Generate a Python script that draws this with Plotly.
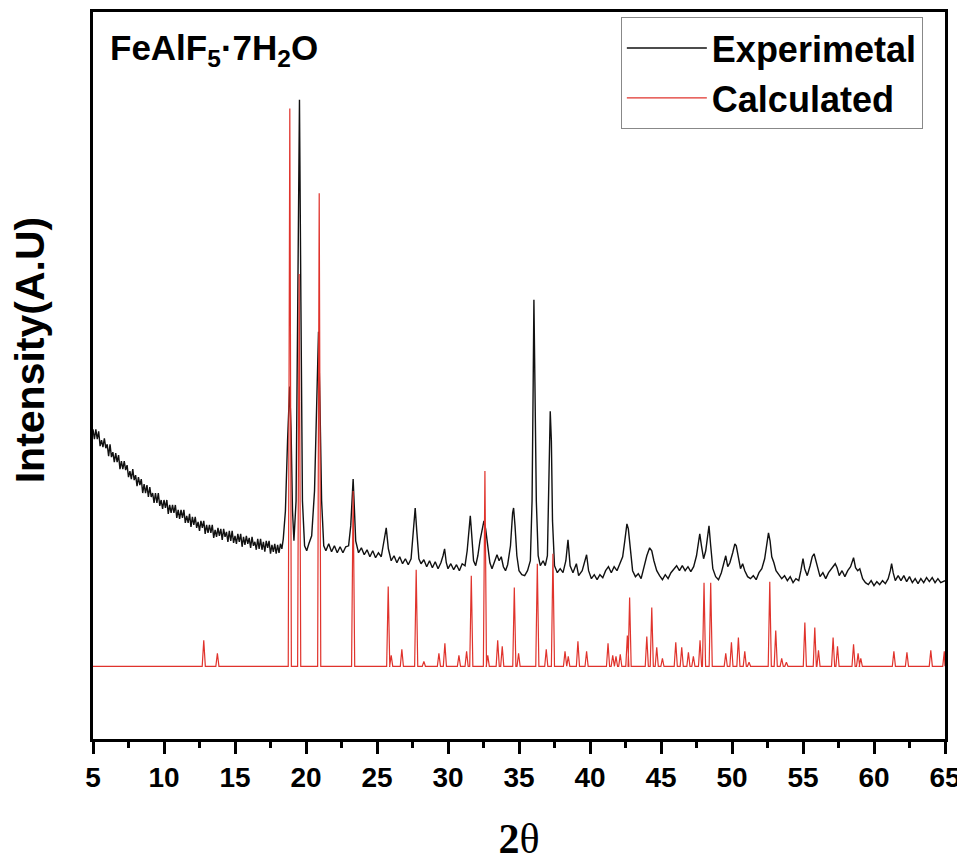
import plotly.graph_objects as go

# ---------------- data ----------------
# Experimental pattern: 2theta and intensity (arbitrary units, axis 0..730)
exp_2theta = [
    5.0, 5.1, 5.2, 5.3, 5.4, 5.5, 5.6, 5.7, 5.8, 5.9, 6.0, 6.1, 6.2, 6.3, 6.4, 6.5, 6.6, 6.7, 6.8, 6.9,
    7.0, 7.1, 7.2, 7.3, 7.4, 7.5, 7.6, 7.7, 7.8, 7.9, 8.0, 8.1, 8.2, 8.3, 8.4, 8.5, 8.6, 8.7, 8.8, 8.9,
    9.0, 9.1, 9.2, 9.3, 9.4, 9.5, 9.6, 9.7, 9.8, 9.9, 10.0, 10.1, 10.2, 10.3, 10.4, 10.5, 10.6, 10.7, 10.8, 10.9,
    11.0, 11.1, 11.2, 11.3, 11.4, 11.5, 11.6, 11.7, 11.8, 11.9, 12.0, 12.1, 12.2, 12.3, 12.4, 12.5, 12.6, 12.7, 12.8, 12.9,
    13.0, 13.1, 13.2, 13.3, 13.4, 13.5, 13.6, 13.7, 13.8, 13.9, 14.0, 14.1, 14.2, 14.3, 14.4, 14.5, 14.6, 14.7, 14.8, 14.9,
    15.0, 15.1, 15.2, 15.3, 15.4, 15.5, 15.6, 15.7, 15.8, 15.9, 16.0, 16.1, 16.2, 16.3, 16.4, 16.5, 16.6, 16.7, 16.8, 16.9,
    17.0, 17.1, 17.2, 17.3, 17.4, 17.5, 17.6, 17.7, 17.8, 17.9, 18.0, 18.1, 18.2, 18.3,
    18.4, 18.55, 18.7, 18.85, 18.95, 19.05, 19.15, 19.3,
    19.42, 19.54, 19.64, 19.75, 19.9, 20.05, 20.2, 20.4, 20.6, 20.75, 20.88, 20.98, 21.1, 21.25, 21.4,
    21.6, 21.8, 22.0, 22.2, 22.4, 22.6, 22.8, 23.0, 23.15, 23.25, 23.32, 23.4, 23.5, 23.7, 23.9,
    24.1, 24.3, 24.5, 24.7, 24.9, 25.1, 25.3, 25.5, 25.65, 25.8, 26.0, 26.2, 26.4, 26.6, 26.8,
    27.0, 27.2, 27.4, 27.55, 27.69, 27.8, 27.95, 28.1, 28.3, 28.5, 28.7, 28.9, 29.1, 29.3, 29.5,
    29.65, 29.76, 29.88, 30.0, 30.2, 30.4, 30.6, 30.8, 31.0, 31.2, 31.35, 31.5, 31.57, 31.65, 31.8,
    31.95, 32.1, 32.25, 32.4, 32.53, 32.65, 32.8, 32.95, 33.1, 33.3, 33.45, 33.6, 33.75, 33.9, 34.05,
    34.2, 34.4, 34.55, 34.62, 34.72, 34.85, 35.0, 35.2, 35.4, 35.6, 35.8, 35.92, 36.0, 36.05, 36.12,
    36.22, 36.35, 36.5, 36.7, 36.85, 37.0, 37.12, 37.2, 37.28, 37.36, 37.5, 37.7, 37.9, 38.1, 38.3,
    38.45, 38.6, 38.8, 39.04, 39.2, 39.45, 39.65, 39.76, 39.9, 40.1, 40.3, 40.5, 40.7, 40.9, 41.1,
    41.3, 41.5, 41.7, 41.9, 42.1, 42.3, 42.45, 42.6, 42.7, 42.85, 43.0, 43.2, 43.4, 43.6, 43.8,
    44.0, 44.2, 44.35, 44.5, 44.7, 44.9, 45.1, 45.3, 45.5, 45.7, 45.9, 46.1, 46.3, 46.5, 46.7,
    46.9, 47.1, 47.3, 47.5, 47.65, 47.73, 47.85, 48.0, 48.15, 48.3, 48.38, 48.5, 48.65, 48.85, 49.05,
    49.25, 49.45, 49.56, 49.7, 49.85, 50.05, 50.2, 50.3, 50.45, 50.6, 50.75, 50.9, 51.1, 51.3, 51.5,
    51.7, 51.9, 52.1, 52.3, 52.45, 52.57, 52.68, 52.8, 52.95, 53.1, 53.3, 53.5, 53.7, 53.9, 54.1,
    54.3, 54.5, 54.7, 54.85, 55.0, 55.12, 55.3, 55.5, 55.65, 55.78, 55.9, 56.05, 56.2, 56.4, 56.6,
    56.8, 57.0, 57.15, 57.27, 57.4, 57.55, 57.75, 57.95, 58.15, 58.35, 58.56, 58.7, 58.85, 59.0, 59.2,
    59.4, 59.6, 59.8, 60.0, 60.2, 60.4, 60.6, 60.8, 61.0, 61.15, 61.24, 61.35, 61.5, 61.7, 61.9,
    62.1, 62.3, 62.5, 62.7, 62.9, 63.1, 63.3, 63.5, 63.7, 63.9, 64.1, 64.3, 64.5, 64.7, 65.0,
]
exp_intensity = [
    311, 301, 311, 301, 309, 294, 300, 293, 302, 292, 296, 284, 296, 283, 288, 278, 287, 278, 285, 271,
    279, 271, 279, 270, 275, 263, 269, 261, 271, 260, 265, 254, 263, 255, 261, 247, 256, 247, 255, 243,
    253, 243, 247, 237, 247, 237, 247, 234, 240, 231, 240, 232, 240, 226, 235, 227, 235, 227, 235, 222,
    230, 221, 230, 222, 230, 217, 224, 217, 226, 213, 223, 215, 223, 212, 218, 209, 219, 212, 219, 206,
    215, 207, 215, 207, 215, 202, 210, 203, 212, 204, 211, 200, 211, 203, 208, 198, 209, 199, 209, 197,
    204, 196, 206, 198, 206, 193, 203, 195, 204, 196, 202, 192, 203, 194, 198, 190, 201, 191, 201, 190,
    198, 188, 199, 192, 199, 186, 195, 188, 196, 186, 195, 187, 196, 191,
    201, 229, 299, 354, 309, 229, 199, 239,
    439, 642, 439, 239, 194, 189, 196, 204, 249, 339, 409, 339, 239, 194, 189,
    196, 188, 194, 187, 193, 187, 193, 194, 214, 249, 261, 234, 199, 187, 192,
    185, 190, 183, 189, 182, 187, 183, 199, 212, 191, 179, 184, 177, 183, 176,
    181, 175, 181, 209, 232, 209, 181, 176, 180, 173, 179, 172, 178, 171, 177,
    184, 191, 177, 171, 176, 170, 175, 169, 176, 174, 189, 219, 224, 209, 179,
    174, 184, 199, 211, 219, 211, 194, 177, 171, 179, 185, 179, 183, 173, 169,
    175, 194, 227, 232, 214, 184, 169, 165, 164, 169, 179, 239, 359, 441, 359,
    239, 184, 174, 179, 174, 184, 259, 329, 299, 219, 174, 167, 171, 167, 179,
    200, 174, 167, 176, 164, 169, 181, 185, 169, 161, 165, 160, 165, 162, 169,
    173, 167, 173, 169, 176, 183, 199, 216, 211, 187, 169, 163, 166, 161, 174,
    184, 192, 189, 179, 169, 164, 160, 165, 161, 167, 170, 174, 169, 174, 169,
    173, 168, 173, 184, 201, 206, 194, 181, 189, 209, 214, 194, 171, 163, 160,
    167, 179, 184, 173, 177, 187, 196, 194, 181, 171, 176, 169, 163, 161, 164,
    160, 167, 171, 181, 194, 207, 199, 183, 177, 169, 165, 161, 164, 159, 163,
    157, 161, 159, 169, 181, 171, 164, 174, 183, 186, 179, 171, 163, 167, 161,
    167, 171, 174, 176, 172, 164, 169, 163, 169, 173, 182, 172, 169, 171, 161,
    157, 155, 159, 154, 158, 155, 159, 156, 161, 169, 176, 167, 159, 164, 159,
    164, 158, 163, 157, 161, 156, 161, 157, 162, 158, 162, 157, 161, 157, 159,
]

# Calculated pattern: reflection positions (2theta) and peak intensities
calc_base = 73
calc_2theta = [
    12.80, 13.76, 18.86, 19.52, 20.93, 23.32, 25.79, 26.00, 26.75, 27.76,
    28.30, 29.36, 29.78, 30.77, 31.31, 31.64, 32.60, 32.80, 33.50, 33.82,
    34.67, 34.97, 36.29, 36.92, 37.39, 38.24, 38.47, 39.15, 39.76, 41.27,
    41.60, 41.83, 42.13, 42.63, 42.79, 44.00, 44.35, 44.70, 45.10, 46.04,
    46.46, 46.93, 47.28, 47.75, 48.03, 48.50, 49.56, 49.96, 50.45, 50.90,
    51.20, 52.66, 53.08, 53.50, 53.83, 55.13, 55.83, 56.09, 57.12, 57.43,
    58.56, 58.88, 59.07, 61.40, 62.32, 64.00, 64.95,
]
calc_intensity = [
    99, 86, 633, 467, 548, 249, 153, 84, 90, 170,
    78, 86, 96, 84, 88, 164, 269, 84, 99, 93,
    152, 86, 176, 90, 186, 88, 83, 98, 88, 96,
    84, 83, 85, 104, 142, 103, 132, 92, 81, 97,
    92, 87, 83, 99, 157, 157, 86, 97, 102, 88,
    77, 158, 109, 81, 77, 117, 112, 89, 102, 93,
    95, 86, 81, 88, 87, 89, 88,
]
calc_halfwidth = 0.11

x_ticks = [5, 10, 15, 20, 25, 30, 35, 40, 45, 50, 55, 60, 65]

# build the stick-like calculated profile from the reflection list
calc_x = [5.0]
calc_y = [calc_base]
for p, h in zip(calc_2theta, calc_intensity):
    calc_x += [max(5.0, p - calc_halfwidth), p, min(65.0, p + calc_halfwidth)]
    calc_y += [calc_base, h, calc_base]
calc_x.append(65.0)
calc_y.append(calc_base)

FONT = "Arial, Liberation Sans, sans-serif"

fig = go.Figure()
fig.add_trace(go.Scatter(
    x=exp_2theta, y=exp_intensity, mode="lines", name="Experimetal",
    line=dict(color="#111111", width=1.4),
))
fig.add_trace(go.Scatter(
    x=calc_x, y=calc_y, mode="lines", name="Calculated",
    line=dict(color="#e0332c", width=1.2),
))

fig.update_layout(
    width=957, height=854,
    margin=dict(l=85, r=20, t=1, b=123),
    paper_bgcolor="white", plot_bgcolor="white",
    showlegend=True,
    legend=dict(
        x=0.974, y=0.993, xanchor="right", yanchor="top",
        bordercolor="#888888", borderwidth=1, bgcolor="white",
        font=dict(family=FONT, size=36, color="black", weight="bold"),
        itemwidth=80, tracegroupgap=0,
    ),
    annotations=[
        dict(
            text="<b>FeAlF<sub>5</sub>·7H<sub>2</sub>O</b>",
            x=0.0176, y=0.948, xref="paper", yref="paper",
            xanchor="left", yanchor="middle", showarrow=False,
            font=dict(family=FONT, size=35, color="black"),
        ),
        dict(
            text="<b>Intensity(A.U)</b>", textangle=-90,
            x=-0.074, y=0.536, xref="paper", yref="paper",
            xanchor="center", yanchor="middle", showarrow=False,
            font=dict(family=FONT, size=41, color="black"),
        ),
    ],
)
fig.update_xaxes(
    range=[5, 65], tickvals=x_ticks, ticks="outside", ticklen=12, tickwidth=2.5,
    tickcolor="black",
    minor=dict(dtick=2.5, ticks="outside", ticklen=6, tickwidth=2.5, tickcolor="black"),
    showline=True, linecolor="black", linewidth=2.5, mirror=True,
    showgrid=False, zeroline=False,
    tickfont=dict(family=FONT, size=28, color="black", weight="bold"),
    title=dict(text="<b>2</b>θ", font=dict(family="Liberation Serif, Times New Roman, serif",
                                            size=42, color="black"), standoff=32),
)
fig.update_yaxes(
    range=[0, 730], showticklabels=False, ticks="",
    showline=True, linecolor="black", linewidth=2.5, mirror=True,
    showgrid=False, zeroline=False,
)

fig.write_html("out.html")
